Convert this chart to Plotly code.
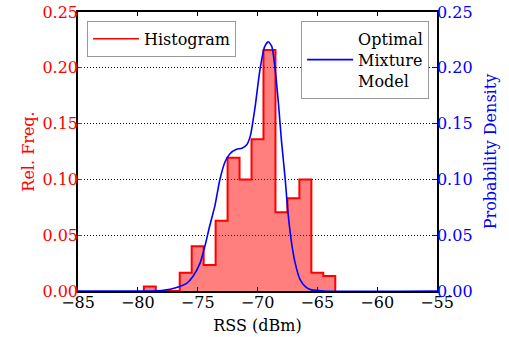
import plotly.graph_objects as go

# Histogram (relative frequency), 1 dBm bins
bin_edges = [-79.5, -78.5, -77.5, -76.5, -75.5, -74.5, -73.5, -72.5, -71.5, -70.5,
             -69.5, -68.5, -67.5, -66.5, -65.5, -64.5, -63.5]
rel_freq = [0.004, 0.0, 0.0, 0.0164, 0.040, 0.0233, 0.063, 0.1195, 0.100, 0.136,
            0.216, 0.0705, 0.083, 0.100, 0.0164, 0.0134]

# Optimal mixture model density
rss_curve = [-85, -79, -78, -77.3, -76.5, -75.9, -75.4, -74.8, -74.4, -74.0, -73.55,
             -73.15, -72.7, -72.3, -71.75, -71.3, -70.9, -70.6, -70.2, -69.8, -69.4,
             -69.1, -68.8, -68.55, -68.25, -68.0, -67.7, -67.45, -67.15, -66.85,
             -66.45, -66.0, -65.5, -64.5, -55]
pdf = [0, 0, 0.0005, 0.0015, 0.004, 0.007, 0.013, 0.025, 0.040, 0.058, 0.077,
       0.0995, 0.116, 0.123, 0.127, 0.128, 0.131, 0.139, 0.165, 0.198, 0.219,
       0.2234, 0.219, 0.201, 0.168, 0.135, 0.102, 0.070, 0.043, 0.025,
       0.0105, 0.004, 0.001, 0, 0]

x_ticks = [-85, -80, -75, -70, -65, -60, -55]
y_ticks = [0.0, 0.05, 0.10, 0.15, 0.20, 0.25]

FONT = "DejaVu Serif"
RED = "#FF0000"
BLUE = "#0000FF"

step_x = [bin_edges[0]] + bin_edges
step_y = [0] + rel_freq + [0]

fig = go.Figure()
fig.add_trace(go.Scatter(
    x=step_x, y=step_y, mode="lines", line=dict(color=RED, width=2, shape="hv"),
    fill="tozeroy", fillcolor="rgba(255,0,0,0.5)", showlegend=False,
    hoverinfo="skip"))
fig.add_trace(go.Scatter(
    x=[None], y=[None], mode="lines", line=dict(color=RED, width=1.5),
    name="Histogram", legend="legend"))
fig.add_trace(go.Scatter(
    x=rss_curve, y=pdf, mode="lines", yaxis="y2",
    line=dict(color=BLUE, width=1.6, shape="spline", smoothing=0.6),
    name="Optimal<br>Mixture<br>Model", legend="legend2"))

fig.update_layout(
    width=509, height=337,
    margin=dict(l=78, r=72, t=12, b=46, autoexpand=False),
    paper_bgcolor="white", plot_bgcolor="white",
    font=dict(family=FONT, size=16, color="black"),
    xaxis=dict(range=[-85, -55], tickvals=x_ticks, ticks="inside", ticklen=4,
               tickcolor="black", showline=True, linecolor="black", linewidth=1.5,
               mirror="ticks", showgrid=False, zeroline=False, automargin=False,
               tickfont=dict(family=FONT, size=16), ticklabelstandoff=-4,
               title=dict(text="RSS (dBm)", font=dict(family=FONT, size=16), standoff=9)),
    yaxis=dict(range=[0, 0.25], tickvals=y_ticks, tickformat=".2f",
               ticks="inside", ticklen=4, tickcolor=RED, automargin=False,
               tickfont=dict(family=FONT, color=RED, size=16), ticklabelstandoff=-5,
               showline=True, linecolor="black", linewidth=1.5, showgrid=True,
               gridcolor="black", griddash="1px,2px", gridwidth=1, zeroline=False,
               title=dict(text="Rel. Freq.", font=dict(family=FONT, color=RED, size=16),
                          standoff=4)),
    yaxis2=dict(range=[0, 0.25], tickvals=y_ticks, tickformat=".2f",
                overlaying="y", side="right", ticks="inside", ticklen=4,
                tickcolor=BLUE, tickfont=dict(family=FONT, color=BLUE, size=16),
                ticklabelstandoff=-5,
                showline=True, linecolor="black", linewidth=1.5, showgrid=False,
                zeroline=False, automargin=False,
                title=dict(text="Probability Density",
                           font=dict(family=FONT, color=BLUE, size=16), standoff=13)),
    legend=dict(x=0.025, y=0.968, xanchor="left", yanchor="top",
                bordercolor="#999999", borderwidth=1, bgcolor="white",
                itemwidth=46, font=dict(family=FONT, size=16)),
    legend2=dict(x=0.978, y=0.968, xanchor="right", yanchor="top",
                 bordercolor="#999999", borderwidth=1, bgcolor="white",
                 itemwidth=46, font=dict(family=FONT, size=16)),
)

fig.write_html("out.html", config={"displayModeBar": False},
               post_script="document.body.style.margin='0px';")
